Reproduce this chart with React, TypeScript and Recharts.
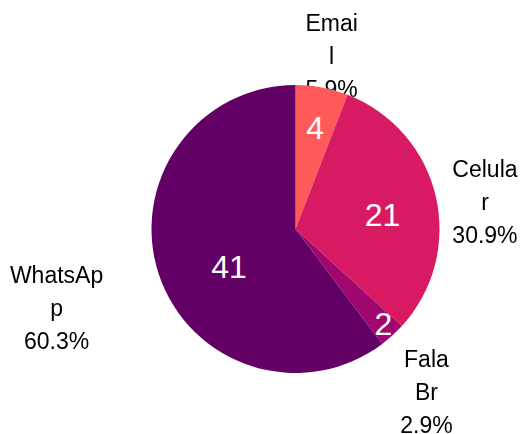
import React from 'react';
import { PieChart, Pie, Cell } from 'recharts';

const categories = ['Email', 'Celular', 'Fala Br', 'WhatsApp'];
const counts = [4, 21, 2, 41];
const labelLines = [['Emai', 'l'], ['Celula', 'r'], ['Fala', 'Br'], ['WhatsAp', 'p']];
const colors = ['#FF5A5A', '#D81A62', '#A0076F', '#620066'];

const total = counts.reduce((a, b) => a + b, 0);
const data = categories.map((name, i) => ({
  name,
  value: counts[i],
  lines: labelLines[i],
  pct: ((counts[i] / total) * 100).toFixed(1) + '%',
}));

// label layout tuning (radial offset beyond outer radius, angular shift in degrees clockwise)
const outerLabelLayout = [
  { dr: 32.7, da: 1.2 },
  { dr: 47.4, da: 5.1 },
  { dr: 64.7, da: 3.5 },
  { dr: 107.7, da: 0.2 },
];
const innerLabelLayout = [
  { f: 0.718, da: 0.3 },
  { f: 0.612, da: 4.1 },
  { f: 0.894, da: -0.7 },
  { f: 0.53, da: -10.9 },
];

const FONT = '"Liberation Sans", Arial, sans-serif';
const OUTER_FS = 23;
const LINE_H = 33;
const INNER_FS = 32;

const polar = (cx: number, cy: number, r: number, clockDeg: number) => {
  const rad = (clockDeg * Math.PI) / 180;
  return { x: cx + r * Math.sin(rad), y: cy - r * Math.cos(rad) };
};

const renderOuter = (props: any) => {
  const { cx, cy, midAngle, outerRadius, index } = props;
  const d = data[index];
  const lay = outerLabelLayout[index];
  const clock = 90 - midAngle + lay.da;
  const p = polar(cx, cy, outerRadius + lay.dr, clock);
  const lines = [...d.lines, d.pct];
  const n = lines.length;
  const maskId = `pie-under-mask-${index}`;
  return (
    <g key={`ol-${index}`}>
      <defs>
        <mask id={maskId} maskUnits="userSpaceOnUse" x={0} y={0} width={521} height={434}>
          <rect x={0} y={0} width={521} height={434} fill="#fff" />
          <circle cx={cx} cy={cy} r={outerRadius} fill="#000" />
        </mask>
      </defs>
      <g mask={`url(#${maskId})`}>
        {lines.map((t, i) => (
          <text
            key={i}
            x={p.x}
            y={p.y + (i - (n - 1) / 2) * LINE_H + 0.358 * OUTER_FS}
            textAnchor="middle"
            fill="#000"
            fontSize={OUTER_FS}
            fontFamily={FONT}
          >
            {t}
          </text>
        ))}
      </g>
    </g>
  );
};

const renderInner = (props: any) => {
  const { cx, cy, midAngle, outerRadius, index } = props;
  const d = data[index];
  const lay = innerLabelLayout[index];
  const clock = 90 - midAngle + lay.da;
  const p = polar(cx, cy, outerRadius * lay.f, clock);
  return (
    <text
      key={`il-${index}`}
      x={p.x}
      y={p.y + 0.358 * INNER_FS}
      textAnchor="middle"
      fill="#fff"
      fontSize={INNER_FS}
      fontFamily={FONT}
    >
      {d.value}
    </text>
  );
};

export default function App() {
  return (
    <div style={{ position: 'absolute', left: 0, top: 0, background: '#fff' }}>
      <PieChart width={521} height={434} margin={{ top: 0, right: 0, bottom: 0, left: 0 }}>
        <Pie
          data={data}
          dataKey="value"
          cx={295.5}
          cy={229}
          outerRadius={144}
          startAngle={90}
          endAngle={-270}
          stroke="none"
          fill="transparent"
          label={renderOuter}
          labelLine={false}
          isAnimationActive={false}
        >
          {data.map((d, i) => (
            <Cell key={i} fill="transparent" stroke="none" />
          ))}
        </Pie>
        <Pie
          data={data}
          dataKey="value"
          cx={295.5}
          cy={229}
          outerRadius={144}
          startAngle={90}
          endAngle={-270}
          stroke="none"
          label={renderInner}
          labelLine={false}
          isAnimationActive={false}
        >
          {data.map((d, i) => (
            <Cell key={i} fill={colors[i]} stroke="none" />
          ))}
        </Pie>
      </PieChart>
    </div>
  );
}
